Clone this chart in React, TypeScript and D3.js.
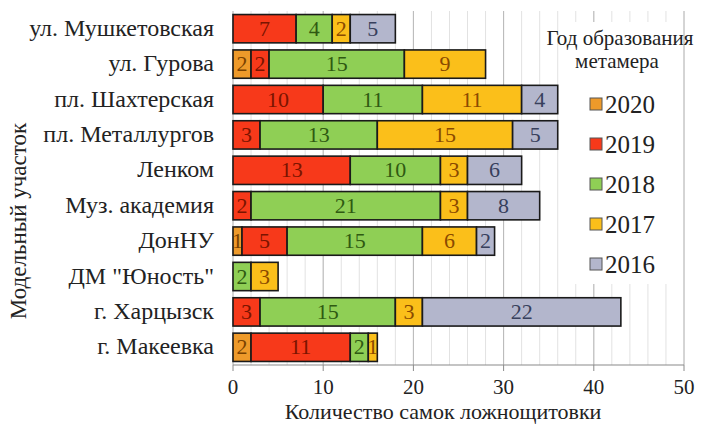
import React from 'react';
import * as d3 from 'd3';

const categories = [
    'ул. Мушкетовская',
    'ул. Гурова',
    'пл. Шахтерская',
    'пл. Металлургов',
    'Ленком',
    'Муз. академия',
    'ДонНУ',
    'ДМ "Юность"',
    'г. Харцызск',
    'г. Макеевка',
];

const years = ['2020', '2019', '2018', '2017', '2016'];

const values2020 = [0, 2, 0, 0, 0, 0, 1, 0, 0, 2];
const values2019 = [7, 2, 10, 3, 13, 2, 5, 0, 3, 11];
const values2018 = [4, 15, 11, 13, 10, 21, 15, 2, 15, 2];
const values2017 = [2, 9, 11, 15, 3, 3, 6, 3, 3, 1];
const values2016 = [5, 0, 4, 5, 6, 8, 2, 0, 22, 0];

const xTicks = [0, 10, 20, 30, 40, 50];

const colors = ['#EE9A2A', '#F7391A', '#8FCF55', '#FBBF1A', '#B3B6CC'];
const textColors = ['#7a4200', '#7a1400', '#2f5a12', '#8a4a00', '#38405c'];

const serif = { fontFamily: '"Times New Roman"' };

const x = d3.scaleLinear().domain([0, 50]).range([233, 684]);
const y = d3.scaleBand()
    .domain(categories)
    .range([11, 365])
    .paddingInner(0.2)
    .paddingOuter(0.1);

const series = [values2020, values2019, values2018, values2017, values2016];
const rows = categories.map((c, i) => {
    const r: any = { cat: c };
    years.forEach((yr, k) => { r[yr] = series[k][i]; });
    return r;
});
const stacked = d3.stack<any>().keys(years)(rows);

const App: React.FC = () => {
    const [y0, y1] = [11, 365];
    return (
        <svg width={715} height={425} style={{ position: 'absolute', left: 0, top: 0, background: '#fff' }}>
            {/* gridlines */}
            {d3.range(0, 51, 2).map(d => (
                <line key={'m' + d} x1={x(d)} x2={x(d)} y1={y0} y2={y1} stroke="#e2e2e2" />
            ))}
            {xTicks.map(d => (
                <line key={'g' + d} x1={x(d)} x2={x(d)} y1={y0} y2={y1} stroke="#b8b8b8" />
            ))}

            {/* legend background covers the grid */}
            <rect x={562} y={22} width={118} height={262} fill="#fff" />

            {/* bars */}
            {stacked.map((layer, k) => (
                <g key={layer.key}>
                    {layer.filter(d => d[1] - d[0] > 0).map(d => (
                        <g key={d.data.cat}>
                            <rect
                                x={x(d[0])}
                                y={y(d.data.cat)}
                                width={x(d[1]) - x(d[0])}
                                height={y.bandwidth()}
                                fill={colors[k]}
                                stroke="#1a1a1a"
                                strokeWidth={1.6}
                            />
                            <text
                                x={(x(d[0]) + x(d[1])) / 2}
                                y={y(d.data.cat)! + y.bandwidth() / 2 + 7}
                                textAnchor="middle"
                                fill={textColors[k]}
                                fontSize={22}
                                style={serif}
                            >
                                {d[1] - d[0]}
                            </text>
                        </g>
                    ))}
                </g>
            ))}

            {/* x axis */}
            <line x1={x(0)} x2={x(50)} y1={y1} y2={y1} stroke="#8a8a8a" strokeWidth={1.2} />
            {xTicks.map(d => (
                <g key={'t' + d}>
                    <line x1={x(d)} x2={x(d)} y1={y1} y2={y1 + 6} stroke="#8a8a8a" />
                    <text x={x(d)} y={y1 + 29} textAnchor="middle" fill="#222" fontSize={21} style={serif}>{d}</text>
                </g>
            ))}

            {/* category labels */}
            {categories.map(c => (
                <text key={c} x={214} y={y(c)! + y.bandwidth() / 2 + 7} textAnchor="end" fill="#222" fontSize={24} style={serif}>
                    {c}
                </text>
            ))}

            {/* axis titles */}
            <text x={443} y={419} textAnchor="middle" fill="#222" fontSize={22} style={serif}>
                Количество самок ложнощитовки
            </text>
            <text transform="translate(26,221) rotate(-90)" textAnchor="middle" fill="#222" fontSize={23} style={serif}>
                Модельный участок
            </text>

            {/* legend */}
            <text x={620} y={45} textAnchor="middle" fill="#222" fontSize={21} style={serif}>Год образования</text>
            <text x={617} y={68} textAnchor="middle" fill="#222" fontSize={21} style={serif}>метамера</text>
            {years.map((yr, i) => (
                <g key={yr} transform={`translate(590,${104 + i * 40})`}>
                    <rect x={0} y={-6} width={12} height={12} fill={colors[i]} stroke="#555" />
                    <text x={15} y={9} fill="#222" fontSize={25} style={serif}>{yr}</text>
                </g>
            ))}
        </svg>
    );
};

export default App;
